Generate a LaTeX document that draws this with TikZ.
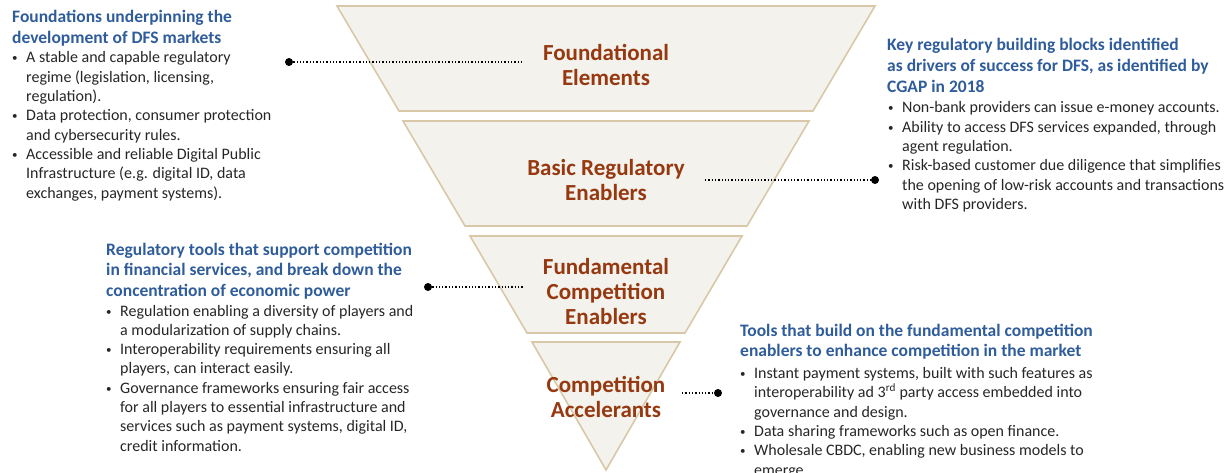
\documentclass[tikz,border=0pt]{standalone}
\usepackage{fontspec}
\setmainfont{Carlito}
\definecolor{bandfill}{HTML}{F4F2EC}
\definecolor{bandedge}{HTML}{D8C8A8}
\definecolor{bandtext}{HTML}{963810}
\definecolor{headblue}{HTML}{2F5C9B}
\definecolor{bodytext}{HTML}{262626}
\newcommand{\bul}{\makebox[14pt][l]{\raisebox{1pt}{\fontsize{11}{11}\selectfont •}}}
\newcommand{\ind}{\hspace*{14pt}}
% a column of lines whose baseline is the baseline of its first line
\newcommand{\lines}[1]{\begin{tabular}[t]{@{}l@{}}#1\end{tabular}}
\begin{document}
\begin{tikzpicture}[x=1pt,y=-1pt,
  band/.style={fill=bandfill,draw=bandedge,line width=1.6pt,line join=miter},
  bandlabel/.style={text=bandtext,font=\fontsize{23}{25}\selectfont\bfseries,align=center,inner sep=0pt},
  headtext/.style={text=headblue,font=\fontsize{17.5}{20.8}\selectfont\bfseries,inner sep=0pt,anchor=base west},
  bodyblock/.style={text=bodytext,font=\fontsize{16}{19.3}\selectfont,inner sep=0pt,anchor=base west},
  pin/.style={circle,fill=black,inner sep=0pt,minimum size=8pt},
  leader/.style={line width=1.3pt,dotted}]
\useasboundingbox (0,0) rectangle (1230,473);

% funnel bands: slices of one triangle, apex at (606,470), top half-width 269 at y=6
\draw[band] (337,6) -- (875,6) -- (813,111) -- (399,111) -- cycle;
\draw[band] (403,121) -- (809,121) -- (747,226) -- (465,226) -- cycle;
\draw[band] (470,236) -- (742,236) -- (685,333) -- (527,333) -- cycle;
\draw[band] (532,342) -- (680,342) -- (606,470) -- cycle;

\node[bandlabel] (found) at (606,65) {Foundational\\Elements};
\node[bandlabel] (basic) at (606,180) {Basic Regulatory\\Enablers};
\node[bandlabel] (fund) at (606,292) {Fundamental\\Competition\\Enablers};
\node[bandlabel] (accel) at (606,397) {Competition\\Accelerants};

% top left block
\node[headtext] (h1) at (12,23) {\lines{Foundations underpinning the\\development of DFS markets}};
\node[bodyblock] (b1) at (12,63) {\lines{\bul A stable and capable regulatory\\
\ind regime (legislation, licensing,\\
\ind regulation).\\
\bul Data protection, consumer protection\\
\ind and cybersecurity rules.\\
\bul Accessible and reliable Digital Public\\
\ind Infrastructure (e.g. digital ID, data\\
\ind exchanges, payment systems).}};

% top right block
\node[headtext] (h2) at (887,51) {\lines{Key regulatory building blocks identified\\as drivers of success for DFS, as identified by\\CGAP in 2018}};
\node[bodyblock] (b2) at (888,113) {\lines{\bul Non-bank providers can issue e-money accounts.\\
\bul Ability to access DFS services expanded, through\\
\ind agent regulation.\\
\bul Risk-based customer due diligence that simplifies\\
\ind the opening of low-risk accounts and transactions\\
\ind with DFS providers.}};

% middle left block
\node[headtext] (h3) at (106,255) {\lines{Regulatory tools that support competition\\in financial services, and break down the\\concentration of economic power}};
\node[bodyblock] (b3) at (106,316) {\lines{\bul Regulation enabling a diversity of players and\\
\ind a modularization of supply chains.\\
\bul Interoperability requirements ensuring all\\
\ind players, can interact easily.\\
\bul Governance frameworks ensuring fair access\\
\ind for all players to essential infrastructure and\\
\ind services such as payment systems, digital ID,\\
\ind credit information.}};

% bottom right block
\node[headtext] (h4) at (740,336) {\lines{Tools that build on the fundamental competition\\enablers to enhance competition in the market}};
\node[bodyblock] (b4) at (740,378) {\lines{\bul Instant payment systems, built with such features as\\
\ind interoperability ad 3\textsuperscript{rd} party access embedded into\\
\ind governance and design.\\
\bul Data sharing frameworks such as open finance.\\
\bul Wholesale CBDC, enabling new business models to\\
\ind emerge.}};

% dotted leaders with end pins
\node[pin] (p1) at (289,62) {};
\coordinate (e1) at (523,62);
\draw[leader] (p1) -- (e1);
\node[pin] (p2) at (875,180) {};
\coordinate (e2) at (705,180);
\draw[leader] (e2) -- (p2);
\node[pin] (p3) at (428,287) {};
\coordinate (e3) at (523,287);
\draw[leader] (p3) -- (e3);
\node[pin] (p4) at (718,393) {};
\coordinate (e4) at (682,393);
\draw[leader] (e4) -- (p4);
\end{tikzpicture}
\end{document}
